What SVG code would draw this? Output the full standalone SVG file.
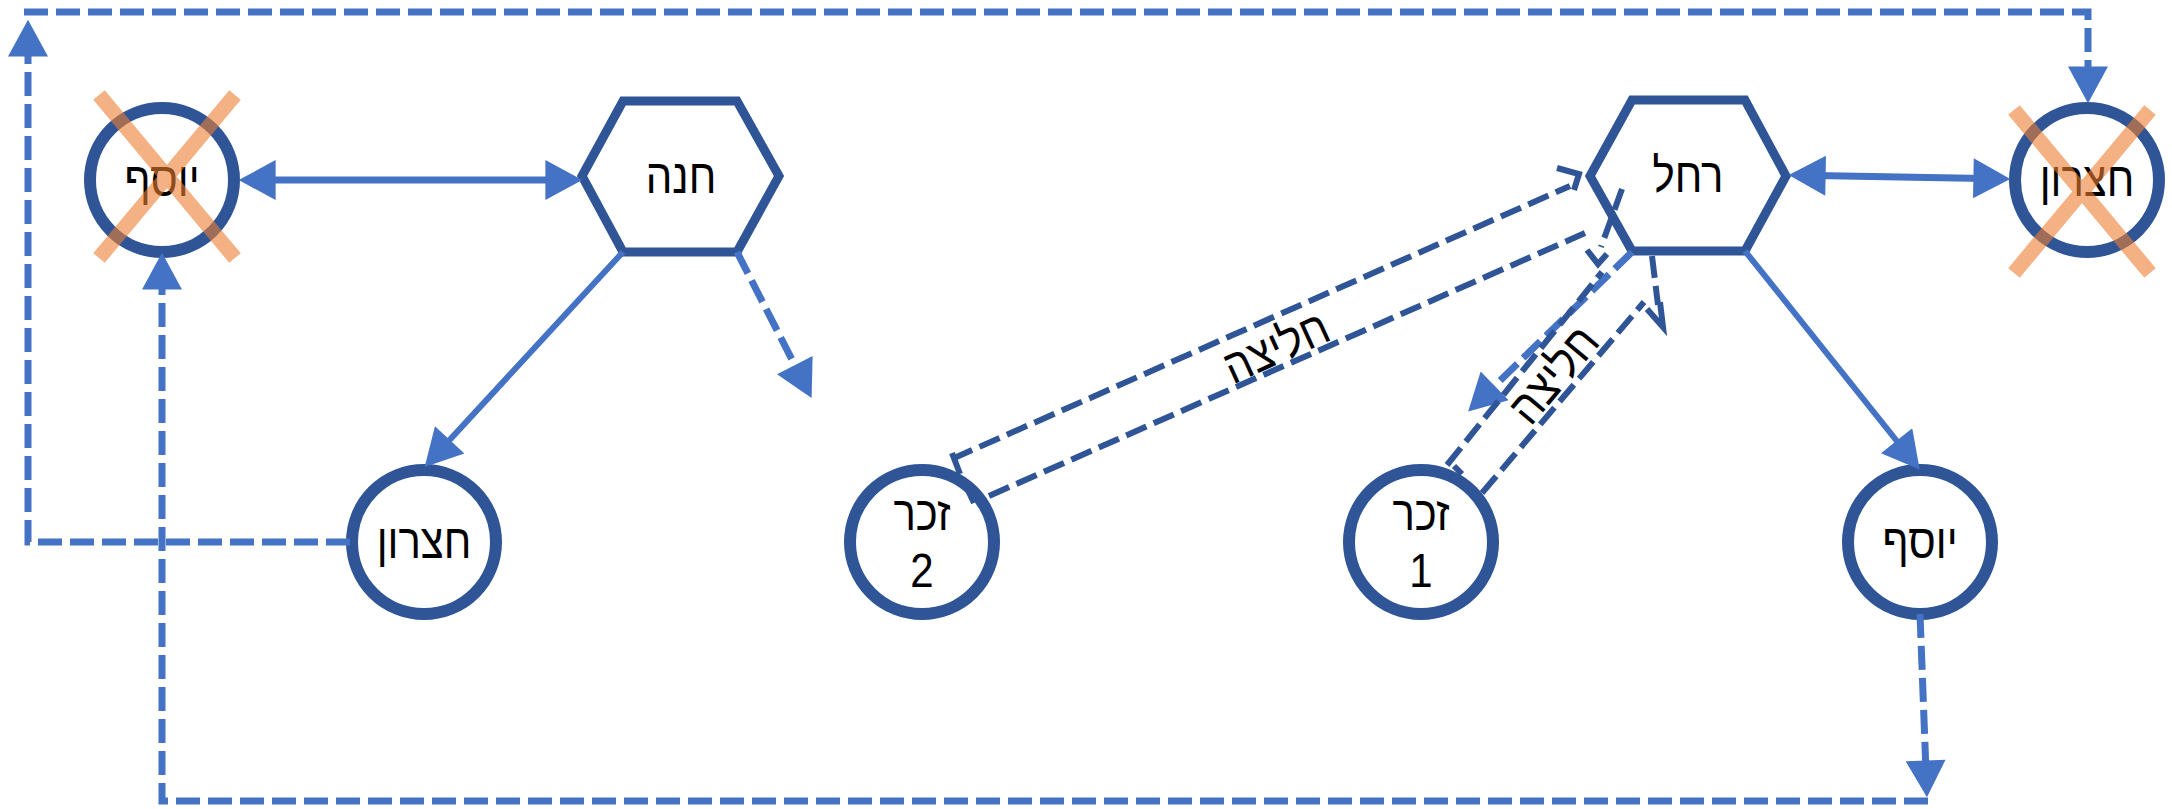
<svg xmlns="http://www.w3.org/2000/svg" width="2172" height="809" viewBox="0 0 2172 809">
<style>
.node{fill:#fff;stroke:#2F5597;stroke-width:12}
.hex{fill:#fff;stroke:#2F5597;stroke-width:9;stroke-linejoin:miter}
.lbl{font-family:"Liberation Sans","DejaVu Sans",sans-serif;font-size:42px;fill:#000;text-anchor:middle}
.cross{stroke:#ED7D31;stroke-opacity:0.6;stroke-width:15;fill:none}
.solid{stroke:#4472C4;stroke-width:6;fill:none}
.thick{stroke:#4472C4;stroke-width:7;fill:none}
.dash{stroke:#4472C4;stroke-width:7;fill:none;stroke-dasharray:24 8}
.dark{stroke:#2F5597;stroke-width:6;fill:none;stroke-dasharray:22 8}
.darks{stroke:#2F5597;stroke-width:6;fill:none}
</style>
<defs>
<marker id="arr" markerUnits="userSpaceOnUse" markerWidth="40" markerHeight="40" viewBox="0 0 36 39" refX="24" refY="19.5" orient="auto-start-reverse">
<path d="M0,0 L36,19.5 L0,39 z" fill="#4472C4"/>
</marker>
</defs>
<rect width="2172" height="809" fill="#fff"/>

<g id="node-yosef-left">
<circle class="node" cx="162" cy="180" r="72"/>
<text class="lbl" transform="translate(162,196) scale(1,1.14)">יוסף</text>
<path class="cross" d="M99,95 L235,258 M235,95 L99,258"/>
</g>
<g id="node-chana">
<polygon class="hex" points="623,101 737,101 779,176 737,252 623,252 582,176"/>
<text class="lbl" transform="translate(681,193) scale(1,1.14)">חנה</text>
</g>
<g id="node-rachel">
<polygon class="hex" points="1632,100 1745,100 1786,176 1745,251 1632,251 1590,176"/>
<text class="lbl" transform="translate(1688,192) scale(1,1.14)">רחל</text>
</g>
<g id="node-chetzron-right">
<circle class="node" cx="2087" cy="180" r="72"/>
<text class="lbl" transform="translate(2087,196) scale(1,1.14)">חצרון</text>
<path class="cross" d="M2014,110 L2150,273 M2150,110 L2014,273"/>
</g>
<g id="node-chetzron-left">
<circle class="node" cx="424" cy="542" r="72"/>
<text class="lbl" transform="translate(424,558) scale(1,1.14)">חצרון</text>
</g>
<g id="node-zachar2">
<circle class="node" cx="922" cy="542" r="72"/>
<text class="lbl" transform="translate(922,530) scale(1,1.14)">זכר</text>
<text class="lbl" transform="translate(922,587) scale(1,1.14)">2</text>
</g>
<g id="node-zachar1">
<circle class="node" cx="1421" cy="542" r="72"/>
<text class="lbl" transform="translate(1421,530) scale(1,1.14)">זכר</text>
<text class="lbl" transform="translate(1421,587) scale(1,1.14)">1</text>
</g>
<g id="node-yosef-right">
<circle class="node" cx="1920" cy="542" r="72"/>
<text class="lbl" transform="translate(1920,558) scale(1,1.14)">יוסף</text>
</g>

<g id="connectors">
<path class="thick" d="M251,180 H570" marker-start="url(#arr)" marker-end="url(#arr)"/>
<path class="solid" d="M623,252 L433,458" marker-end="url(#arr)"/>
<path class="dash" d="M737,252 L806,387" marker-end="url(#arr)"/>
<path class="thick" d="M1801,175.2 L1998,178.8" marker-start="url(#arr)" marker-end="url(#arr)"/>
<path class="solid" d="M1745,251 L1912,460" marker-end="url(#arr)"/>
<path class="dash" d="M1920,614 L1926.5,785" marker-end="url(#arr)"/>
<path class="dash" d="M1928,801 H162 V265" marker-end="url(#arr)"/>
<path class="dash" d="M350,542 H28 V32" marker-end="url(#arr)"/>
<path class="dash" d="M24,12 H2088 V91" marker-end="url(#arr)"/>
<path class="dash" d="M1632,252 L1477,403" marker-end="url(#arr)"/>

<path class="dark" d="M952,459 L1570,186"/>
<path class="darks" d="M1557,168 L1579,174 L1574,190"/>
<path class="dark" d="M989,496 L1585,233"/>
<path class="darks" d="M1587,250 L1598,264 L1607,254"/>
<path class="dark" d="M1622,189 L1601,247"/>
<path class="dark" d="M1447,465 L1602,272"/>
<path class="dark" d="M1482,493 L1644,302"/>
<path class="dark" d="M1652,256 L1658,305"/>
<path class="darks" d="M1647,309 L1663,327 L1660,302"/>
<path class="darks" d="M952,453 L960,474 M966,486 L974,503 M1454,466 L1462,474"/>

<text class="lbl" transform="translate(1283,362) rotate(-24.5) scale(1,1.14)">חליצה</text>
<text class="lbl" transform="translate(1566,385) rotate(-50) scale(1,1.14)">חליצה</text>
</g>
</svg>
